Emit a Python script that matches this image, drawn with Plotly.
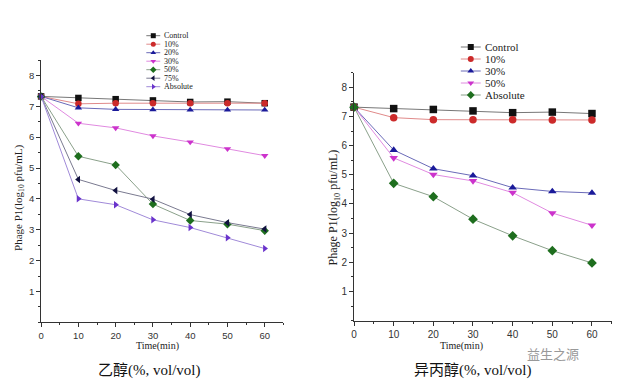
import plotly.graph_objects as go

# ---------------- data ----------------
time = [0, 10, 20, 30, 40, 50, 60]

eth_names = ["Control", "10%", "20%", "30%", "50%", "75%", "Absolute"]
eth_control = [7.32, 7.27, 7.23, 7.19, 7.14, 7.15, 7.10]
eth_10 = [7.32, 7.08, 7.10, 7.10, 7.10, 7.10, 7.10]
eth_20 = [7.32, 6.95, 6.90, 6.89, 6.88, 6.88, 6.88]
eth_30 = [7.32, 6.45, 6.30, 6.04, 5.84, 5.62, 5.40]
eth_50 = [7.32, 5.38, 5.10, 3.83, 3.30, 3.18, 2.97]
eth_75 = [7.32, 4.63, 4.27, 3.99, 3.49, 3.23, 3.02]
eth_abs = [7.32, 4.00, 3.81, 3.32, 3.07, 2.74, 2.39]

iso_names = ["Control", "10%", "30%", "50%", "Absolute"]
iso_control = [7.32, 7.27, 7.24, 7.19, 7.13, 7.15, 7.10]
iso_10 = [7.32, 6.96, 6.89, 6.89, 6.89, 6.88, 6.88]
iso_30 = [7.32, 5.85, 5.21, 4.97, 4.56, 4.43, 4.38]
iso_50 = [7.32, 5.58, 5.01, 4.79, 4.39, 3.69, 3.27]
iso_abs = [7.32, 4.71, 4.25, 3.48, 2.91, 2.40, 1.98]

x_ticks = [0, 10, 20, 30, 40, 50, 60]
y_ticks = [1, 2, 3, 4, 5, 6, 7, 8]

# ---------------- styles ----------------
W, H = 633, 382
SERIF = "Liberation Serif, Times New Roman, serif"
SANS = "Liberation Sans, Arial, sans-serif"
CJK = "Liberation Serif, Noto Sans CJK SC, serif"

sty = {
    "Control": dict(symbol="square", color="#111111", line="#777777"),
    "10%": dict(symbol="circle", color="#cc2a2a", line="#e08a8a"),
    "20%": dict(symbol="triangle-up", color="#1a1a9a", line="#6a6ab8"),
    "30%": dict(symbol="triangle-down", color="#cc33cc", line="#e08ae0"),
    "50%": dict(symbol="diamond", color="#1e6e1e", line="#8aa08a"),
    "75%": dict(symbol="triangle-left", color="#111140", line="#7a7a90"),
    "Absolute": dict(symbol="triangle-right", color="#6a33cc", line="#a08ad8"),
}
iso_sty = {
    "Control": sty["Control"],
    "10%": sty["10%"],
    "30%": sty["20%"],
    "50%": sty["30%"],
    "Absolute": sty["50%"],
}

fig = go.Figure()

eth_series = [eth_control, eth_10, eth_20, eth_30, eth_50, eth_75, eth_abs]
iso_series = [iso_control, iso_10, iso_30, iso_50, iso_abs]

for name, vals in zip(eth_names, eth_series):
    s = sty[name]
    fig.add_trace(go.Scatter(
        x=time, y=vals, name=name, mode="lines+markers", xaxis="x", yaxis="y",
        line=dict(color=s["line"], width=1),
        marker=dict(symbol=s["symbol"], color=s["color"], size=6.5),
        cliponaxis=False, showlegend=False))

for name, vals in zip(iso_names, iso_series):
    s = iso_sty[name]
    fig.add_trace(go.Scatter(
        x=time, y=vals, name=name, mode="lines+markers", xaxis="x2", yaxis="y2",
        line=dict(color=s["line"], width=1),
        marker=dict(symbol=s["symbol"], color=s["color"], size=7.5),
        cliponaxis=False, showlegend=False))

# ---------------- compact Origin-style legends (pixel overlay axis) ----------------
annotations = []

def add_legend(names, styles, x0, x1, xm, xt, y0, step, msize, fsize):
    for i, name in enumerate(names):
        s = styles[name]
        yy = y0 + i * step
        fig.add_trace(go.Scatter(
            x=[x0, x1], y=[yy, yy], mode="lines",
            xaxis="x3", yaxis="y3", showlegend=False, hoverinfo="skip",
            line=dict(color=s["line"], width=1)))
        fig.add_trace(go.Scatter(
            x=[xm], y=[yy], mode="markers",
            xaxis="x3", yaxis="y3", showlegend=False, hoverinfo="skip",
            marker=dict(symbol=s["symbol"], color=s["color"], size=msize)))
        annotations.append(dict(
            x=xt, y=yy, xref="x3", yref="y3", text=name, showarrow=False,
            xanchor="left", yanchor="middle",
            font=dict(family=SERIF, size=fsize, color="#222")))

add_legend(eth_names, sty, 144, 158, 151, 160, 35.7, 8.5, 5, 8)
add_legend(iso_names, iso_sty, 460, 480, 470, 482, 47, 12, 6, 11)

# ---------------- axis titles & captions ----------------
annotations += [
    dict(x=155, y=346, xref="x3", yref="y3", text="Time(min)", showarrow=False,
         font=dict(family=SERIF, size=10, color="#222")),
    dict(x=461, y=346, xref="x3", yref="y3", text="Time(min)", showarrow=False,
         font=dict(family=SERIF, size=10, color="#222")),
    dict(x=16, y=198, xref="x3", yref="y3", text="Phage P1(log<sub>10</sub> pfu/mL)",
         showarrow=False, textangle=-90, font=dict(family=SERIF, size=11, color="#222")),
    dict(x=333, y=207, xref="x3", yref="y3", text="Phage P1(log<sub>10</sub> pfu/mL)",
         showarrow=False, textangle=-90, font=dict(family=SERIF, size=12, color="#222")),
    dict(x=147, y=370, xref="x3", yref="y3", text="乙醇(%, vol/vol)", showarrow=False,
         font=dict(family=CJK, size=15, color="#111")),
    dict(x=472, y=370, xref="x3", yref="y3", text="异丙醇(%, vol/vol)", showarrow=False,
         font=dict(family=CJK, size=15, color="#111")),
    dict(x=553, y=353, xref="x3", yref="y3", text="益生之源", showarrow=False,
         font=dict(family="Noto Sans CJK SC", size=13, color="#999")),
]

axis_common = dict(
    showline=True, linecolor="#333", linewidth=1, mirror=False,
    ticks="outside", ticklen=4, tickcolor="#333", showgrid=False, zeroline=False,
    fixedrange=True,
)

fig.update_layout(
    width=W, height=H, margin=dict(l=0, r=0, t=0, b=0),
    paper_bgcolor="white", plot_bgcolor="rgba(0,0,0,0)",
    showlegend=False,
    xaxis=dict(domain=[38.3 / W, 281.7 / W], range=[0, 65], anchor="y",
               tickvals=x_ticks, tickfont=dict(family=SANS, size=9.5, color="#333"),
               minor=dict(dtick=5, ticks="outside", ticklen=2, tickcolor="#333"),
               **axis_common),
    yaxis=dict(domain=[1 - 322.3 / H, 1 - 60 / H], range=[0, 8.5], anchor="x",
               tickvals=y_ticks, tickfont=dict(family=SANS, size=9.5, color="#333"),
               minor=dict(dtick=0.5, ticks="outside", ticklen=2, tickcolor="#333"),
               **axis_common),
    xaxis2=dict(domain=[352.7 / W, 611.7 / W], range=[0, 65], anchor="y2",
                tickvals=x_ticks, tickfont=dict(family=SANS, size=10, color="#333"),
                minor=dict(dtick=5, ticks="outside", ticklen=2, tickcolor="#333"),
                **axis_common),
    yaxis2=dict(domain=[1 - 320.7 / H, 1 - 72.7 / H], range=[0, 8.5], anchor="x2",
                tickvals=y_ticks, tickfont=dict(family=SANS, size=10, color="#333"),
                minor=dict(dtick=0.5, ticks="outside", ticklen=2, tickcolor="#333"),
                **axis_common),
    xaxis3=dict(domain=[0, 1], range=[0, W], anchor="y3", visible=False, fixedrange=True),
    yaxis3=dict(domain=[0, 1], range=[H, 0], anchor="x3", visible=False, fixedrange=True),
    annotations=annotations,
)

fig.write_html("out.html", config={"displayModeBar": False},
               post_script="document.body.style.margin='0px';")
